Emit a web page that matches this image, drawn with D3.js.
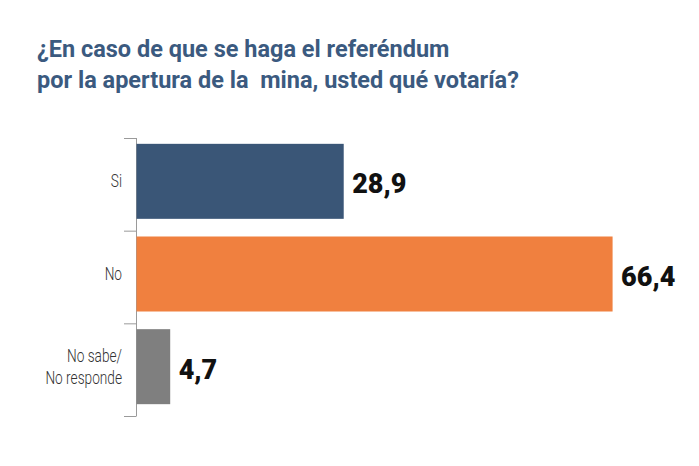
<!DOCTYPE html>
<html>
<head>
<meta charset="utf-8">
<script src="https://cdn.jsdelivr.net/npm/d3@7"></script>
<style>
  body { margin: 0; background: #fff; }
  svg { display: block; }
</style>
</head>
<body>
<div id="chart"></div>
<script>
var titleLines = ["¿En caso de que se haga el referéndum", "por la apertura de la  mina, usted qué votaría?"];
var categories = [["Si"], ["No"], ["No sabe/", "No responde"]];
var values = [28.9, 66.4, 4.7];
var valueLabels = ["28,9", "66,4", "4,7"];
var colors = ["#3a5677", "#f0803f", "#7f7f7f"];

var width = 699,
    height = 466;

var svg = d3.select("#chart").append("svg")
    .attr("width", width)
    .attr("height", height);

// title
svg.append("g").selectAll("text")
    .data(titleLines)
    .join("text")
    .attr("x", 37)
    .attr("y", function (d, i) { return 57 + i * 31; })
    .attr("fill", "#3b5a7f")
    .style("font-family", "Roboto, sans-serif")
    .style("font-weight", 700)
    .style("font-size", "23.5px")
    .style("white-space", "pre")
    .text(function (d) { return d; });

var idx = d3.range(values.length);

var x = d3.scaleLinear()
    .domain([0, 100])
    .range([136, 136 + 717]);

// bands for the bracket ticks
var y = d3.scaleBand()
    .domain(idx)
    .range([138, 416])
    .padding(0);

var barH = 75;

// bracket axis
var axis = svg.append("g").attr("stroke", "#9a9a9a").attr("stroke-width", 1);
axis.append("line")
    .attr("x1", 136.5).attr("x2", 136.5)
    .attr("y1", y.range()[0]).attr("y2", y.range()[1]);
axis.selectAll("line.tick")
    .data(idx.map(function (i) { return y(i); }).concat([y.range()[1]]))
    .join("line")
    .attr("class", "tick")
    .attr("x1", 124).attr("x2", 136.5)
    .attr("y1", function (d) { return d + 0.5; })
    .attr("y2", function (d) { return d + 0.5; });

function barTop(i) { return y(i) + y.bandwidth() / 2 - barH / 2 - 3; }

// bars
svg.append("g").selectAll("rect")
    .data(idx)
    .join("rect")
    .attr("x", x(0) + 0.5)
    .attr("y", barTop)
    .attr("width", function (i) { return x(values[i]) - x(0); })
    .attr("height", barH)
    .attr("fill", function (i) { return colors[i]; });

// category labels (narrow face, squeezed horizontally)
var cat = svg.append("g").selectAll("text")
    .data(idx)
    .join("text")
    .attr("text-anchor", "end")
    .attr("fill", "#333")
    .style("font-family", "Roboto, sans-serif")
    .style("font-weight", 300)
    .style("font-size", "18px")
    .attr("transform", function (i) {
      var n = categories[i].length;
      var cy = barTop(i) + barH / 2 - (n - 1) * 11 + 6;
      return "translate(122," + cy + ") scale(0.76,1)";
    });
cat.selectAll("tspan")
    .data(function (i) { return categories[i]; })
    .join("tspan")
    .attr("x", 0)
    .attr("dy", function (d, j) { return j === 0 ? 0 : 22; })
    .text(function (d) { return d; });

// value labels
svg.append("g").selectAll("text")
    .data(idx)
    .join("text")
    .attr("x", function (i) { return x(values[i]) + 9; })
    .attr("y", function (i) { return barTop(i) + barH / 2 + 12; })
    .attr("fill", "#111")
    .style("font-family", "Roboto, sans-serif")
    .style("font-weight", 900)
    .style("font-size", "27px")
    .text(function (i) { return valueLabels[i]; });
</script>
</body>
</html>
